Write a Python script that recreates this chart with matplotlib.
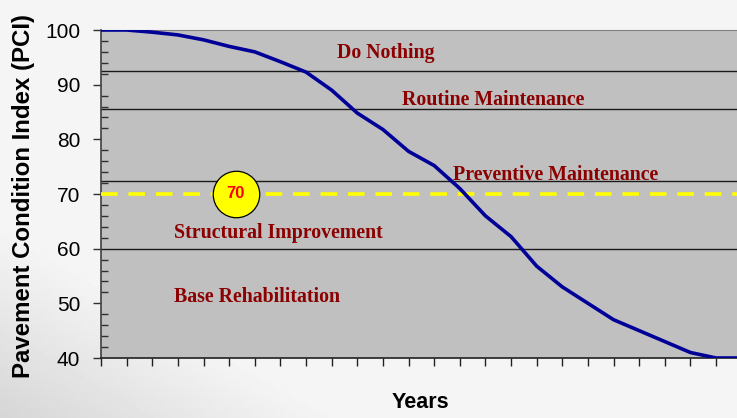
import numpy as np
import matplotlib
matplotlib.use("Agg")
import matplotlib.pyplot as plt

# ---- data ----
years = list(range(0, 26))
pci = [100, 100, 99.6, 99.1, 98.2, 97.0, 96.0, 94.2, 92.3, 89.0, 84.8, 81.8,
       77.8, 75.2, 71.0, 66.0, 62.2, 56.8, 53.0, 50.0, 47.0, 45.0, 43.0, 41.0, 40.0, 40.0]
y_ticks = [40, 50, 60, 70, 80, 90, 100]
band_lines = [92.5, 85.5, 72.4, 60.0]
target_pci = 70
band_labels = ["Do Nothing", "Routine Maintenance", "Preventive Maintenance",
               "Structural Improvement", "Base Rehabilitation"]
label_x = [9.22, 11.75, 13.75, 2.85, 2.85]
label_y = [94.9, 86.3, 72.6, 62.0, 50.3]
marker_year = 5.26

fig = plt.figure(figsize=(7.37, 4.18), dpi=100)
fig.patch.set_facecolor("#efefef")

# subtle background gradient (road photo imitation)
bg = fig.add_axes([0, 0, 1, 1], zorder=-10)
gx = np.linspace(0, 1, 200)
gy = np.linspace(0, 1, 120)
GX, GY = np.meshgrid(gx, gy)
shade = 0.84 + 0.12 * np.clip(GX * 2.2 + (1 - GY) * 2.2, 0, 1)
bg.imshow(shade, cmap="gray", vmin=0, vmax=1, aspect="auto", extent=[0, 1, 0, 1])
bg.axis("off")

ax = fig.add_axes([101 / 737, 1 - 358 / 418, 1 - 101 / 737 + 0.001, (358 - 30) / 418])
ax.set_facecolor("#c0c0c0")
ax.set_xlim(0, (737 - 101) / 25.6)
ax.set_ylim(40, 100)

# band separators
for b in band_lines:
    ax.axhline(b, color="#1a1a1a", lw=1.0, zorder=2)

# target line
ax.axhline(target_pci, color="#ffff00", lw=2.6, dashes=(4.6, 3.0), zorder=3)

# curve
ax.plot(years, pci, color="#000099", lw=2.6, zorder=4, solid_capstyle="butt")

# circle marker
ax.scatter([marker_year], [target_pci], s=1120, facecolor="#ffff00",
           edgecolor="#000000", linewidth=0.9, zorder=5, clip_on=False)
ax.text(marker_year, target_pci, str(target_pci), color="#ff0000",
        fontsize=12, fontweight="bold", family="Liberation Sans",
        ha="center", va="center", zorder=6)

for t, x, y in zip(band_labels, label_x, label_y):
    ax.text(x, y, t, color="#8b0000", fontsize=14.3, fontweight="bold",
            family="Liberation Serif", ha="left", va="baseline", zorder=6)

# axes styling
ax.set_yticks(y_ticks)
ax.set_yticklabels([str(v) for v in y_ticks], fontsize=15, family="Liberation Sans")
ax.set_yticks(np.arange(40, 101, 2), minor=True)
ax.tick_params(axis="y", which="major", direction="out", length=6, width=1, color="#303030", pad=9)
ax.tick_params(axis="y", which="minor", direction="in", length=5, width=1, color="#303030")
ax.set_xticks(np.arange(0, 25, 1))
ax.set_xticklabels([])
ax.tick_params(axis="x", which="major", direction="out", length=6, width=1, color="#202020")

ax.spines["right"].set_visible(False)
ax.spines["top"].set_color("#808080")
ax.spines["left"].set_color("#404040")
ax.spines["bottom"].set_color("#202020")
ax.spines["left"].set_linewidth(1.2)
ax.spines["bottom"].set_linewidth(1.2)

fig.text(24 / 737, 1 - 196 / 418, "Pavement Condition Index (PCI)", rotation=90,
         fontsize=17.3, fontweight="bold", family="Liberation Sans",
         ha="center", va="center")
fig.text(420 / 737, 1 - 403 / 418, "Years", fontsize=15.5, fontweight="bold",
         family="Liberation Sans", ha="center", va="center")

fig.savefig("out.png", dpi=100)
